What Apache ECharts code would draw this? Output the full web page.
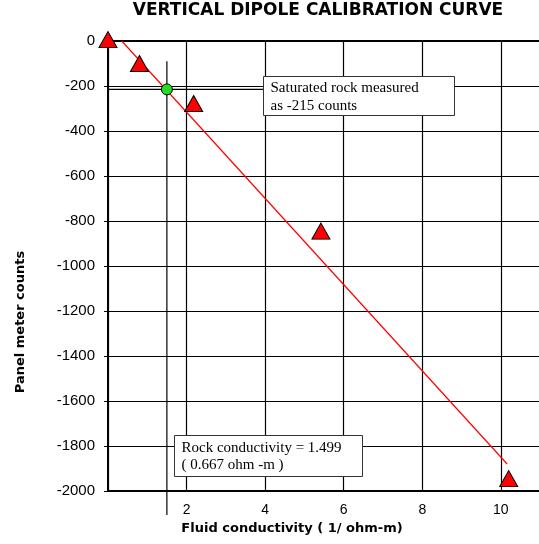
<!DOCTYPE html>
<html>
<head>
<meta charset="utf-8">
<script src="https://cdn.jsdelivr.net/npm/echarts@6/dist/echarts.min.js"></script>
<style>
  html, body { margin: 0; padding: 0; background: #fff; }
  #chart { width: 539px; height: 544px; }
</style>
</head>
<body>
<div id="chart"></div>
<script>
// Calibration standards: fluid conductivity (1/ohm-m) vs panel meter counts
const calX = [0, 0.8, 2.18, 5.42, 10.2];
const calY = [6, -100, -278, -845, -1945];

// Saturated rock reading
const rockX = [1.499];
const rockY = [-215];

// Fitted calibration line end points
const fitX = [0.35, 10.16];
const fitY = [0, -1880];

// Read-off guide lines through the rock reading
const dropX = [1.499, 1.499];
const dropY = [-90, -2107];
const levelX = [-0.12, 3.95];
const levelY = [-215, -215];

// Axis ticks
const xTicks = [2, 4, 6, 8, 10];
const yTicks = [0, -200, -400, -600, -800, -1000, -1200, -1400, -1600, -1800, -2000];

const zip = (a, b) => a.map((v, i) => [v, b[i]]);

const comic = '"DejaVu Sans", sans-serif';
const serif = '"Liberation Serif", "Times New Roman", serif';
const sans = '"Liberation Sans", Arial, sans-serif';

const chart = echarts.init(document.getElementById('chart'), null, { renderer: 'canvas' });

chart.setOption({
  animation: false,
  backgroundColor: '#fff',
  grid: { left: 108, top: 41, width: 440, height: 450, outerBoundsMode: 'none', containLabel: false },
  xAxis: [{
    type: 'value', min: 0, max: 11.2, interval: 2,
    axisLine: { show: true, onZero: false, lineStyle: { color: '#000', width: 2 } },
    axisTick: { show: false },
    axisLabel: {
      color: '#000', fontSize: 14, fontFamily: sans, margin: 12,
      formatter: v => (xTicks.indexOf(v) >= 0 ? String(v) : '')
    },
    splitLine: { show: true, lineStyle: { color: '#000', width: 1.2 } }
  }, {
    type: 'value', min: 0, max: 11.2, interval: 2, position: 'top',
    axisLine: { show: true, onZero: false, lineStyle: { color: '#000', width: 2 } },
    axisTick: { show: false }, axisLabel: { show: false }, splitLine: { show: false }
  }],
  yAxis: {
    type: 'value', min: -2000, max: 0, interval: 200,
    axisLine: { show: true, onZero: false, lineStyle: { color: '#000', width: 2 } },
    axisTick: { show: true, length: 4, lineStyle: { color: '#000', width: 1 } },
    axisLabel: {
      color: '#000', fontSize: 15, fontFamily: sans, margin: 13,
      formatter: v => (yTicks.indexOf(v) >= 0 ? String(v) : '')
    },
    splitLine: { show: true, lineStyle: { color: '#000', width: 1.2 } }
  },
  series: [
    {
      name: 'drop', type: 'line', clip: false, symbol: 'none', z: 3,
      data: zip(dropX, dropY),
      lineStyle: { color: '#000', width: 1.2 }
    },
    {
      name: 'level', type: 'line', clip: false, symbol: 'none', z: 3,
      data: zip(levelX, levelY),
      lineStyle: { color: '#000', width: 1.2 }
    },
    {
      name: 'fit', type: 'line', symbol: 'none', z: 4,
      data: zip(fitX, fitY),
      lineStyle: { color: '#ff0000', width: 1.2 }
    },
    {
      name: 'standards', type: 'scatter', symbol: 'triangle', symbolSize: [18, 16], z: 5,
      clip: false,
      data: zip(calX, calY),
      itemStyle: { color: '#ff0000', borderColor: '#000', borderWidth: 1, opacity: 1 }
    },
    {
      name: 'rock', type: 'scatter', symbol: 'circle', symbolSize: 11, z: 6,
      data: zip(rockX, rockY),
      itemStyle: { color: '#22dd22', borderColor: '#000', borderWidth: 1, opacity: 1 }
    }
  ],
  graphic: [
    {
      type: 'text', x: 318, y: 2, z: 100,
      style: { text: 'VERTICAL DIPOLE CALIBRATION CURVE', fill: '#000',
        font: 'bold 17px ' + comic, textAlign: 'center', textVerticalAlign: 'top' }
    },
    {
      type: 'text', x: 292, y: 529, z: 100,
      style: { text: 'Fluid conductivity ( 1/ ohm-m)', fill: '#000',
        font: 'bold 13px ' + comic, textAlign: 'center', textVerticalAlign: 'middle' }
    },
    {
      type: 'text', x: 21, y: 322, rotation: Math.PI / 2, z: 100,
      style: { text: 'Panel meter counts', fill: '#000',
        font: 'bold 13px ' + comic, textAlign: 'center', textVerticalAlign: 'middle' }
    },
    {
      type: 'group', left: 263, top: 76, z: 100,
      children: [
        { type: 'rect', z: 100, shape: { x: 0, y: 0, width: 191, height: 39 },
          style: { fill: '#fff', stroke: '#333', lineWidth: 1 } },
        { type: 'text', z: 101, x: 7, y: 3,
          style: { text: 'Saturated rock measured\nas -215 counts', fill: '#000',
            font: '15px ' + serif, lineHeight: 18 } }
      ]
    },
    {
      type: 'group', left: 174, top: 435, z: 100,
      children: [
        { type: 'rect', z: 100, shape: { x: 0, y: 0, width: 188, height: 41 },
          style: { fill: '#fff', stroke: '#333', lineWidth: 1 } },
        { type: 'text', z: 101, x: 7, y: 4,
          style: { text: 'Rock conductivity = 1.499\n( 0.667 ohm -m )', fill: '#000',
            font: '15px ' + serif, lineHeight: 17 } }
      ]
    }
  ]
});
</script>
</body>
</html>
